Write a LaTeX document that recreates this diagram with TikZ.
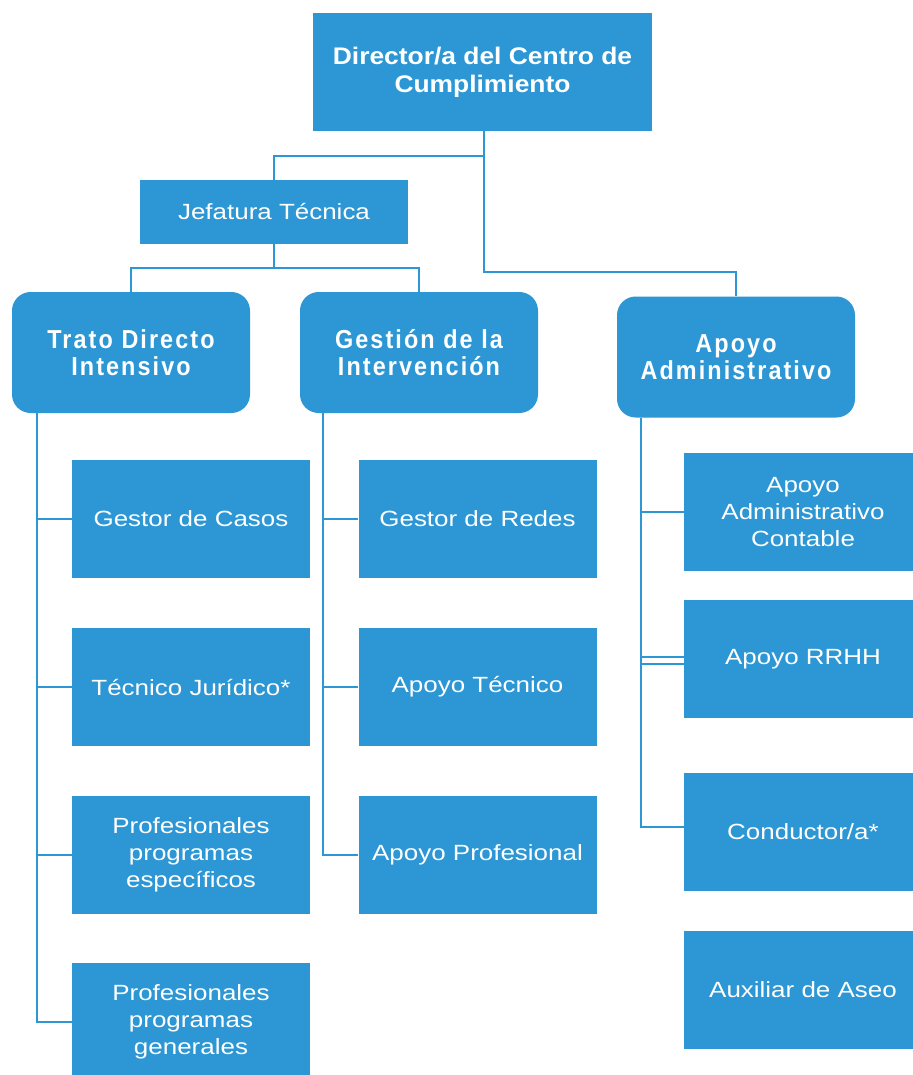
\documentclass[tikz,border=0pt]{standalone}
\usepackage{fontspec}
\setmainfont{Liberation Sans}
\newfontfamily\leaffont[FakeStretch=1.18]{Liberation Sans}
\newfontfamily\dirfont[FakeStretch=1.1]{Liberation Sans}
\newfontfamily\midfont[FakeStretch=0.9,LetterSpace=8]{Liberation Sans}
\definecolor{boxblue}{RGB}{44,151,212}
\begin{document}
\begin{tikzpicture}[x=0.75pt,y=-0.75pt,
  box/.style={fill=boxblue,text=white,inner sep=0pt,align=center},
  dirbox/.style={box,minimum width=254.25pt,minimum height=88.5pt,font=\dirfont\bfseries\fontsize{18}{20.7}\selectfont},
  jefbox/.style={box,minimum width=201pt,minimum height=48pt,font=\leaffont\fontsize{16.5}{17.5}\selectfont},
  midbox/.style={box,rounded corners=14pt,minimum width=178.5pt,minimum height=90.75pt,font=\midfont\bfseries\fontsize{19.5}{20.5}\selectfont},
  leafbox/.style={box,minimum width=178.5pt,minimum height=88.5pt,font=\leaffont\fontsize{16.5}{20.3}\selectfont},
  conn/.style={draw=boxblue,line width=1.5pt}]
\clip (0,0) rectangle (913,1075);
\fill[white] (0,0) rectangle (913,1075);
% nodes
\node[dirbox] (dir) at (482.5,72) {Director/a del Centro de\\Cumplimiento};
\node[jefbox] (jef) at (274,212) {Jefatura Técnica};
\node[midbox] (tdi) at (131,352.5) {Trato Directo\\Intensivo};
\node[midbox] (gdi) at (419,352.5) {Gestión de la\\Intervención};
\node[midbox] (aad) at (736,357) {Apoyo\\Administrativo};
\node[leafbox] (gc) at (191,519) {Gestor de Casos};
\node[leafbox] (tj) at (191,687) {Técnico Jurídico*};
\node[leafbox] (pe) at (191,855) {Profesionales\\programas\\específicos};
\node[leafbox] (pg) at (191,1022) {Profesionales\\programas\\generales};
\node[leafbox] (gr) at (477.5,519) {Gestor de Redes};
\node[leafbox] (at) at (477.5,687) {Apoyo Técnico};
\node[leafbox] (ap) at (477.5,855) {Apoyo Profesional};
\node[leafbox] (ac) at (803,512) {Apoyo\\Administrativo\\Contable};
\node[leafbox] (rh) at (803,659) {Apoyo RRHH};
\node[leafbox] (co) at (803,832) {Conductor/a*};
\node[leafbox] (ax) at (803,990) {Auxiliar de Aseo};
% helper coordinates
\coordinate (dv) at (484,0);
\coordinate (h1) at (0,156);
\coordinate (h2) at (0,272);
\coordinate (h3) at (0,268);
\coordinate (lv) at (37,0);
\coordinate (mv) at (323,0);
\coordinate (rv) at (641,0);
% top connectors
\draw[conn] (dir.south -| dv) -- (dv |- h1) -| (jef.north);
\draw[conn] (dir.south -| dv) -- (dv |- h2) -| (aad.north);
\draw[conn] (jef.south) -- (jef.south |- h3) -| (tdi.north);
\draw[conn] (jef.south |- h3) -| (gdi.north);
% left column
\draw[conn] (tdi.south -| lv) |- (gc.west);
\draw[conn] (tdi.south -| lv) |- (tj.west);
\draw[conn] (tdi.south -| lv) |- (pe.west);
\draw[conn] (tdi.south -| lv) |- (pg.west);
% middle column
\draw[conn] (gdi.south -| mv) |- (gr.west);
\draw[conn] (gdi.south -| mv) |- (at.west);
\draw[conn] (gdi.south -| mv) |- (ap.west);
% right column
\draw[conn] (aad.south -| rv) |- (ac.west);
\draw[conn] (aad.south -| rv) |- ([yshift=1.5pt]rh.west);
\draw[conn] (aad.south -| rv) |- ([yshift=-4pt]rh.west);
\draw[conn] (aad.south -| rv) |- ([yshift=3.75pt]co.west);
\end{tikzpicture}
\end{document}
